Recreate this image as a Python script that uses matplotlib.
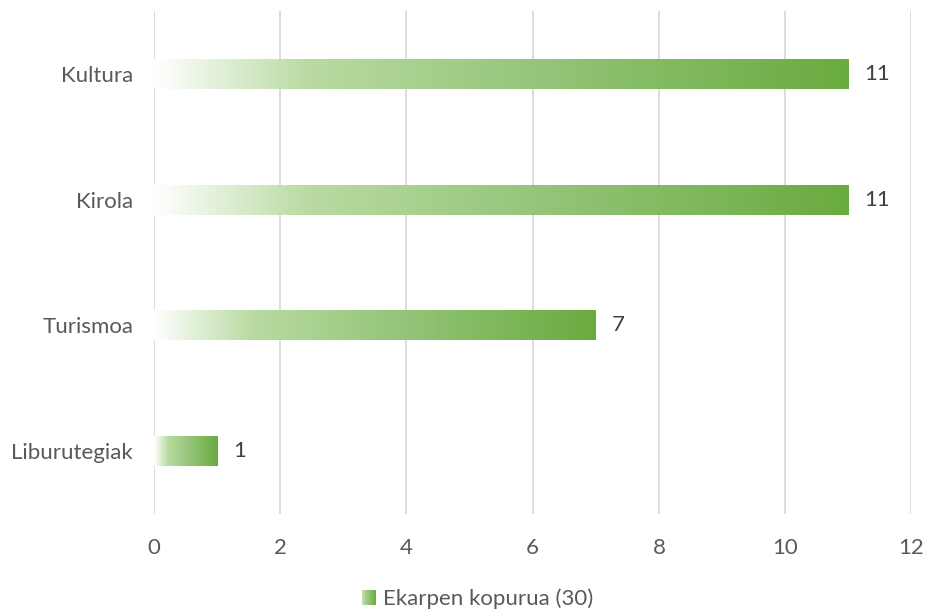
import numpy as np
import matplotlib.pyplot as plt
from matplotlib.colors import LinearSegmentedColormap
from matplotlib.patches import Rectangle
from matplotlib.legend_handler import HandlerBase

# Chart data
categories = ['Liburutegiak', 'Turismoa', 'Kirola', 'Kultura']
values = [1, 7, 11, 11]
series_label = 'Ekarpen kopurua (30)'

plt.rcParams['font.family'] = ['Lato', 'DejaVu Sans']
text_color = '#595959'
fs = 16

# white -> light green -> green gradient, like the Excel fill
grad = LinearSegmentedColormap.from_list(
    'g', [(0.0, '#ffffff'), (0.22, '#b9dba2'), (0.55, '#95c57a'), (1.0, '#6aab3f')])

fig = plt.figure(figsize=(9.27, 6.12), dpi=100)
ax = fig.add_axes([0.1661, 0.160, 0.8170, 0.822])

y = np.arange(len(categories))
bars = ax.barh(y, values, height=0.238, color='none')

ramp = np.linspace(0, 1, 256).reshape(1, -1)
for b in bars:
    x0, y0 = b.get_x(), b.get_y()
    ax.imshow(ramp, cmap=grad, aspect='auto', interpolation='bilinear',
              extent=[x0, x0 + b.get_width(), y0, y0 + b.get_height()], zorder=2)

for yi, v in zip(y, values):
    ax.annotate(str(v), (v, yi), xytext=(11.5, 0), textcoords='offset points',
                va='center', ha='left', fontsize=fs, color='#404040')

ax.set_xlim(0, 12)
ax.set_ylim(-0.5, 3.5)
ax.set_xticks(range(0, 13, 2))
ax.set_yticks(y)
ax.set_yticklabels(categories)
ax.tick_params(length=0, labelsize=fs, colors=text_color)
ax.tick_params(axis='x', pad=17.5)
ax.tick_params(axis='y', pad=15)
ax.grid(axis='x', color='#d9d9d9', linewidth=1.3, zorder=0)
ax.set_axisbelow(True)
for s in ax.spines.values():
    s.set_visible(False)


class GradientHandler(HandlerBase):
    def create_artists(self, legend, orig_handle, xdescent, ydescent,
                       width, height, fontsize, trans):
        n = 20
        side = 10.5
        x_start = width - side
        y_start = (height - side) / 2
        arts = []
        for i in range(n):
            c = grad(0.15 + 0.85 * i / (n - 1))
            r = Rectangle((x_start - xdescent + side * i / n, y_start - ydescent),
                          side / n * 1.05, side, facecolor=c, edgecolor='none',
                          transform=trans)
            arts.append(r)
        return arts


handle = Rectangle((0, 0), 1, 1)
fig.legend([handle], [series_label], handler_map={Rectangle: GradientHandler()},
           loc='center', bbox_to_anchor=(0.515, 0.021), frameon=False,
           fontsize=fs, labelcolor=text_color, handlelength=0.65,
           handletextpad=0.3)

fig.savefig('out.png', dpi=100)
